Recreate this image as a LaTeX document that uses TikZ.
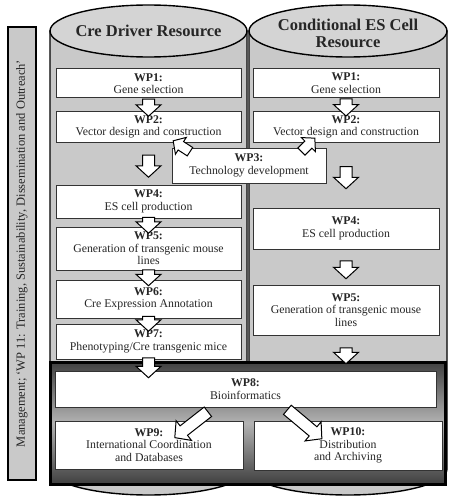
\documentclass[tikz,border=0pt]{standalone}
\usepackage{fontspec}
\setmainfont{Liberation Serif}
\usepackage{tikz}
\usetikzlibrary{shapes,arrows,calc}

\begin{document}
\begin{tikzpicture}[x=1pt,y=-1pt,
  wp/.style={draw=black!80,line width=1pt,fill=white,align=center,inner sep=1pt,
    font=\fontsize{11.8}{12.5}\selectfont,text=black!85},
  leftwp/.style={wp,minimum width=185,minimum height=#1},
  rightwp/.style={wp,minimum width=186,minimum height=#1},
  blk/.style={single arrow,draw=black,fill=white,line width=1pt,inner xsep=0pt,inner ysep=5.5pt,
    single arrow head extend=6.5pt,single arrow tip angle=95,minimum height=#1},
  smallblk/.style={blk=#1,inner ysep=4.5pt,single arrow head extend=5pt},
  downarr/.style={blk=#1,rotate=-90},
  cyl/.style={draw=black,line width=1.4pt,fill=black!21},
  cyltop/.style={draw=black,line width=1.4pt,fill=black!17},
  restitle/.style={font=\fontsize{16.5}{17}\selectfont\bfseries,align=center,text=black!85}]
\useasboundingbox (0,0) rectangle (450,500);

\draw[cyl] (50,31) -- (50,469) arc[start angle=180,end angle=0,x radius=98.5,y radius=26] -- (247,31) -- cycle;
\draw[cyltop] (148.5,31) ellipse[x radius=98.5,y radius=26];
\draw[cyl] (249,31) -- (249,469) arc[start angle=180,end angle=0,x radius=99,y radius=26] -- (447,31) -- cycle;
\draw[cyltop] (348,31) ellipse[x radius=99,y radius=26];
\node[restitle] (crettl) at (148.5,31) {Cre Driver Resource};
\node[restitle] (esttl) at (348,33) {Conditional ES Cell\\Resource};

\node[draw=black,line width=1.6pt,fill=black!21,rotate=90,minimum width=453,minimum height=28,inner sep=0pt,
  font=\fontsize{12.5}{13}\selectfont,text=black!85] (mgmt) at (22,253.5)
  {Management; `WP 11: Training, Sustainability, Dissemination and Outreach'};

\shade[top color=black!75,bottom color=black!75,middle color=black!30] (50,362) rectangle (445,484);
\draw[line width=3pt] (50,362) rectangle (445,484);

\node[leftwp=29] (l1) at (148.5,83.5) {\textbf{WP1:}\\Gene selection};
\node[leftwp=30] (l2) at (148.5,127) {\textbf{WP2:}\\Vector design and construction};
\node[leftwp=33] (l4) at (148.5,201.5) {\textbf{WP4:}\\ES cell production};
\node[leftwp=43] (l5) at (148.5,248.5) {\textbf{WP5:}\\Generation of transgenic mouse\\lines};
\node[leftwp=38] (l6) at (148.5,299) {\textbf{WP6:}\\Cre Expression Annotation};
\node[leftwp=35] (l7) at (148.5,341.5) {\textbf{WP7:}\\Phenotyping/Cre transgenic mice};
\node[rightwp=29] (r1) at (346,83) {\textbf{WP1:}\\Gene selection};
\node[rightwp=30] (r2) at (346,127) {\textbf{WP2:}\\Vector design and construction};
\node[rightwp=41] (r4) at (346,228.5) {\textbf{WP4:}\\ES cell production};
\node[rightwp=50] (r5) at (346,310) {\textbf{WP5:}\\Generation of transgenic mouse\\lines};
\node[wp,minimum width=154,minimum height=35] (wp3) at (249,165.5) {\textbf{WP3:}\\Technology development};
\node[wp,minimum width=381,minimum height=36] (wp8) at (245.5,389) {\textbf{WP8:}\\Bioinformatics};
\node[wp,minimum width=188,minimum height=48] (wp9) at (149,445) {\textbf{WP9:}\\International Coordination\\and Databases};
\node[wp,minimum width=188,minimum height=49] (wp10) at (348,445.5) {\textbf{WP10:}\\Distribution\\and Archiving};

\node[downarr=17] (a12) at ($(l1.south)!.5!(l2.north)$) {};
\node[downarr=22] (a24) at ($(l2.south)!.5!(l4.north)$) {};
\node[downarr=16] (a45) at ($(l4.south)!.5!(l5.north)$) {};
\node[downarr=16] (a56) at ($(l5.south)!.5!(l6.north)$) {};
\node[downarr=15] (a67) at ($(l6.south)!.5!(l7.north)$) {};
\node[downarr=20] (a78) at ($(l7.south)!.5!(l7.south|-wp8.north)$) {};
\node[downarr=17] (b12) at ($(r1.south)!.5!(r2.north)$) {};
\node[downarr=22] (b24) at ($(r2.south)!.5!(r4.north)$) {};
\node[downarr=18] (b45) at ($(r4.south)!.5!(r5.north)$) {};
\node[downarr=16] (b58) at ($(r5.south)!.5!(r5.south|-wp8.north)$) {};
\node[smallblk=20,rotate=147] (c32) at (183.5,147.5) {};
\node[smallblk=19,rotate=45] (d32) at (306.5,146.5) {};
\node[blk=42,rotate=218] (e89) at (193.5,423) {};
\node[blk=45,rotate=-40] (e810) at (302.5,422.5) {};
\end{tikzpicture}
\end{document}
